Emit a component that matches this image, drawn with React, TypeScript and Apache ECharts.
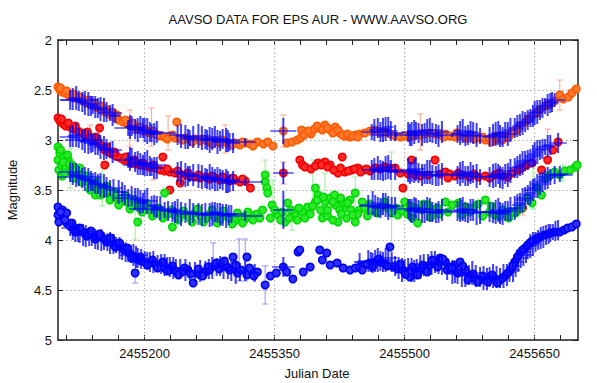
import React, { useEffect, useRef } from "react";
import * as echarts from "echarts";

const X_MIN = 2455100;
const X_MAX = 2455700;
const xLabelTicks = [2455200, 2455350, 2455500, 2455650];
const xTicks = [2455110, 2455140, 2455170, 2455200, 2455230, 2455260, 2455290, 2455320, 2455350, 2455380, 2455410, 2455440, 2455470, 2455500, 2455530, 2455560, 2455590, 2455620, 2455650, 2455680];
const Y_MIN = 2;
const Y_MAX = 5;
const Y_STEP = 0.5;

const titleText = "AAVSO DATA FOR EPS AUR - WWW.AAVSO.ORG";
const xName = "Julian Date";
const yName = "Magnitude";

// ---- circles: [JD, magnitude] ----
const orangeObs = [
  [2455100,2.47],[2455102,2.50],[2455105,2.52],[2455108,2.53],[2455112,2.55],[2455116,2.56],[2455120,2.58],[2455124,2.59],[2455129,2.61],[2455133,2.63],[2455138,2.65],[2455143,2.67],[2455147,2.68],[2455152,2.71],[2455157,2.73],[2455161,2.75],[2455166,2.78],[2455170,2.80],[2455175,2.82],[2455180,2.84],[2455184,2.86],[2455189,2.88],[2455193,2.89],[2455198,2.91],[2455203,2.92],[2455207,2.93],[2455212,2.94],[2455218,2.96],[2455223,2.97],[2455229,2.96],[2455235,2.98],[2455237,2.82],[2455241,2.99],[2455247,2.98],[2455252,3.00],[2455258,2.99],[2455264,3.01],[2455270,3.00],[2455275,3.02],[2455281,3.01],[2455287,3.03],[2455293,3.02],[2455298,3.04],[2455304,3.03],[2455310,3.05],[2455316,3.03],[2455322,3.04],[2455330,3.02],[2455337,3.04],[2455342,3.02],[2455348,3.06],[2455360,2.91],[2455364,3.03],[2455370,3.02],[2455376,3.00],[2455380,2.98],[2455381,2.90],[2455392,2.94],[2455402,2.88],[2455408,2.85],[2455414,2.90],[2455420,2.87],[2455425,2.93],[2455431,2.96],[2455437,2.97],[2455443,2.95],[2455448,2.94],[2455454,2.93],[2455460,2.91],[2455466,2.90],[2455472,2.93],[2455477,2.92],[2455483,2.94],[2455489,2.96],[2455495,2.97],[2455500,2.96],[2455506,2.97],[2455512,2.95],[2455518,2.95],[2455523,2.94],[2455529,2.93],[2455535,2.94],[2455541,2.95],[2455547,2.94],[2455552,2.96],[2455558,2.97],[2455564,2.96],[2455570,2.98],[2455575,2.97],[2455581,2.99],[2455587,2.98],[2455593,3.00],[2455598,2.99],[2455604,3.00],[2455610,2.98],[2455616,2.97],[2455622,2.94],[2455627,2.91],[2455633,2.87],[2455639,2.82],[2455645,2.78],[2455650,2.74],[2455656,2.70],[2455662,2.66],[2455668,2.64],[2455673,2.61],[2455679,2.55],[2455683,2.59],[2455689,2.57],[2455693,2.53],[2455698,2.49],
  [2455103,2.48],[2455110,2.51],[2455118,2.54],[2455126,2.57],[2455135,2.60],[2455141,2.63],[2455150,2.66],[2455155,2.69],[2455163,2.72],[2455168,2.75],[2455178,2.80],[2455186,2.83],[2455195,2.87],[2455200,2.89],[2455210,2.91],[2455215,2.95],[2455226,2.99],[2455232,2.95],[2455244,3.00],[2455255,3.02],[2455267,2.99],[2455278,3.04],[2455290,3.00],[2455301,3.05],[2455313,3.02],[2455325,3.06],
  [2455384,2.95],[2455389,2.91],[2455396,2.89],[2455399,2.86],[2455405,2.90],[2455411,2.88],[2455417,2.93],[2455423,2.90],[2455428,2.95],[2455434,2.94],[2455440,2.96],[2455446,2.97],
  [2455545,2.97],[2455560,2.93],[2455577,2.95],[2455590,2.97],[2455600,3.02],[2455607,2.96],[2455613,3.00],[2455620,2.97],[2455630,2.90],[2455642,2.80],[2455653,2.72],[2455665,2.65],
];

const redObs = [
  [2455100,2.78],[2455102,2.81],[2455106,2.84],[2455109,2.86],[2455114,2.87],[2455118,2.89],[2455123,2.91],[2455128,2.93],[2455132,2.95],[2455137,2.97],[2455142,3.00],[2455146,3.02],[2455148,2.88],[2455151,3.06],[2455154,3.10],[2455158,3.12],[2455154,3.25],[2455162,3.14],[2455167,3.16],[2455172,3.18],[2455176,3.20],[2455181,3.21],[2455185,3.23],[2455190,3.24],[2455195,3.25],[2455200,3.26],[2455206,3.27],[2455212,3.28],[2455218,3.30],[2455221,3.17],[2455223,3.31],[2455229,3.32],[2455229,3.50],[2455235,3.33],[2455241,3.34],[2455241,3.43],[2455247,3.35],[2455252,3.36],[2455258,3.37],[2455264,3.38],[2455270,3.37],[2455275,3.39],[2455281,3.38],[2455287,3.40],[2455293,3.39],[2455298,3.41],[2455304,3.40],[2455310,3.42],[2455316,3.41],[2455322,3.48],[2455360,3.33],[2455379,3.20],[2455382,3.25],[2455400,3.23],[2455408,3.22],[2455414,3.25],[2455423,3.33],[2455428,3.17],[2455431,3.32],[2455439,3.30],[2455446,3.28],[2455453,3.30],[2455460,3.31],[2455466,3.28],[2455472,3.29],[2455477,3.27],[2455483,3.28],[2455489,3.28],[2455495,3.33],[2455498,3.48],[2455504,3.34],[2455508,3.20],[2455512,3.35],[2455518,3.36],[2455527,3.35],[2455535,3.20],[2455541,3.34],[2455547,3.32],[2455552,3.34],[2455558,3.36],[2455566,3.35],[2455575,3.37],[2455585,3.37],[2455593,3.36],[2455604,3.35],[2455613,3.36],[2455624,3.33],[2455631,3.30],[2455635,3.28],[2455636,3.68],[2455641,3.25],[2455647,3.23],[2455658,3.30],[2455665,3.20],[2455671,3.10],[2455677,3.02],
  [2455104,2.79],[2455112,2.83],[2455120,2.86],[2455134,2.92],[2455144,2.97],[2455156,3.07],[2455165,3.12],[2455178,3.17],[2455188,3.20],[2455198,3.23],[2455210,3.25],[2455226,3.29],[2455238,3.31],[2455250,3.33],[2455262,3.35],[2455278,3.36],[2455290,3.37],[2455302,3.38],[2455313,3.39],
  [2455385,3.27],[2455392,3.29],[2455397,3.26],[2455404,3.25],[2455411,3.27],[2455418,3.30],[2455426,3.28],[2455435,3.31],[2455442,3.29],[2455449,3.32],[2455456,3.29],
  [2455550,3.38],[2455562,3.33],[2455580,3.34],[2455598,3.38],[2455609,3.33],[2455619,3.37],
];

const greenObs = [
  [2455100,3.07],[2455100,3.20],[2455101,3.30],[2455102,3.13],[2455104,3.25],[2455105,3.36],[2455107,3.17],[2455109,3.28],[2455112,3.20],[2455114,3.32],[2455116,3.25],[2455120,3.30],[2455123,3.36],[2455128,3.35],[2455131,3.40],[2455135,3.42],[2455139,3.46],[2455143,3.55],[2455146,3.48],[2455151,3.50],[2455154,3.52],[2455158,3.54],[2455162,3.56],[2455167,3.58],[2455172,3.59],[2455176,3.61],[2455181,3.63],[2455185,3.64],[2455190,3.66],[2455192,3.82],[2455195,3.67],[2455200,3.69],[2455206,3.70],[2455212,3.72],[2455218,3.73],[2455223,3.53],[2455227,3.74],[2455232,3.87],[2455235,3.75],[2455241,3.76],[2455247,3.74],[2455252,3.78],[2455258,3.73],[2455264,3.76],[2455270,3.79],[2455275,3.74],[2455281,3.77],[2455287,3.80],[2455293,3.75],[2455298,3.78],[2455304,3.81],[2455310,3.76],[2455316,3.79],[2455322,3.77],[2455327,3.75],[2455339,3.35],[2455339,3.42],[2455341,3.48],[2455342,3.53],[2455347,3.65],[2455354,3.75],[2455362,3.82],[2455365,3.63],[2455373,3.75],[2455382,3.72],[2455388,3.67],[2455397,3.62],[2455397,3.48],[2455400,3.55],[2455408,3.62],[2455414,3.58],[2455420,3.65],[2455423,3.82],[2455431,3.68],[2455437,3.60],[2455443,3.53],[2455443,3.82],[2455448,3.70],[2455454,3.68],[2455460,3.64],[2455466,3.72],[2455472,3.67],[2455477,3.62],[2455481,3.68],[2455485,3.73],[2455492,3.75],[2455500,3.62],[2455506,3.66],[2455512,3.68],[2455515,3.83],[2455522,3.64],[2455527,3.65],[2455533,3.70],[2455538,3.68],[2455547,3.62],[2455555,3.65],[2455562,3.63],[2455570,3.67],[2455578,3.68],[2455585,3.64],[2455593,3.60],[2455598,3.72],[2455604,3.75],[2455613,3.70],[2455624,3.72],[2455631,3.70],[2455635,3.68],[2455642,3.58],[2455647,3.63],[2455653,3.48],[2455658,3.55],[2455662,3.38],[2455668,3.35],[2455673,3.32],[2455679,3.35],[2455685,3.31],[2455691,3.30],[2455697,3.27],[2455699,3.25],
  [2455103,3.10],[2455106,3.22],[2455108,3.33],[2455111,3.15],[2455113,3.24],[2455118,3.38],[2455125,3.28],[2455127,3.42],[2455133,3.36],[2455137,3.50],[2455145,3.42],[2455149,3.55],[2455156,3.46],[2455160,3.60],[2455165,3.52],[2455170,3.65],[2455178,3.56],[2455183,3.69],[2455188,3.60],[2455197,3.72],[2455202,3.64],[2455209,3.76],[2455216,3.68],[2455221,3.78],[2455231,3.70],[2455239,3.80],[2455245,3.71],[2455255,3.82],[2455261,3.69],[2455268,3.82],[2455278,3.70],[2455284,3.83],[2455291,3.71],[2455301,3.84],[2455307,3.73],[2455313,3.83],[2455319,3.72],[2455325,3.80],
  [2455330,3.74],[2455333,3.78],[2455336,3.70],[2455345,3.78],[2455350,3.70],[2455357,3.80],[2455359,3.72],[2455367,3.78],[2455369,3.70],[2455376,3.80],[2455378,3.68],[2455385,3.78],[2455391,3.74],[2455394,3.66],[2455403,3.70],[2455405,3.78],[2455411,3.76],[2455417,3.80],[2455425,3.70],[2455429,3.62],[2455433,3.78],[2455438,3.70],[2455446,3.74],[2455399,3.60],[2455406,3.57],[2455419,3.55],[2455426,3.58],
  [2455411,3.70],[2455417,3.62],[2455427,3.74],[2455434,3.63],[2455440,3.75],[2455451,3.62],[2455457,3.76],[2455463,3.69],[2455469,3.73],[2455475,3.66],[2455490,3.68],[2455497,3.71],[2455503,3.74],[2455509,3.78],[2455520,3.70],[2455530,3.77],[2455540,3.74],[2455550,3.72],[2455566,3.75],[2455575,3.72],[2455590,3.76],[2455600,3.66],[2455610,3.76],[2455620,3.78],[2455628,3.73],
];

const blueObs = [
  [2455100,3.67],[2455100,3.75],[2455101,3.82],[2455105,3.70],[2455107,3.78],[2455110,3.73],[2455110,3.83],[2455114,3.86],[2455118,3.88],[2455122,3.89],[2455127,3.91],[2455131,3.93],[2455136,3.94],[2455140,3.95],[2455145,3.96],[2455150,3.97],[2455154,3.99],[2455159,4.01],[2455163,4.03],[2455168,4.04],[2455173,4.07],[2455177,4.10],[2455182,4.13],[2455187,4.16],[2455189,4.33],[2455191,4.19],[2455196,4.21],[2455200,4.22],[2455206,4.23],[2455212,4.24],[2455218,4.25],[2455223,4.28],[2455229,4.30],[2455236,4.31],[2455243,4.32],[2455250,4.30],[2455256,4.43],[2455260,4.33],[2455264,4.35],[2455270,4.32],[2455275,4.30],[2455280,4.26],[2455283,4.23],[2455289,4.25],[2455295,4.27],[2455302,4.17],[2455307,4.33],[2455311,4.30],[2455318,4.17],[2455318,4.35],[2455324,4.32],[2455330,4.32],[2455339,4.45],[2455345,4.36],[2455352,4.33],[2455360,4.27],[2455364,4.32],[2455371,4.39],[2455377,4.12],[2455379,4.10],[2455383,4.32],[2455391,4.27],[2455402,4.10],[2455405,4.20],[2455410,4.13],[2455414,4.25],[2455422,4.23],[2455429,4.28],[2455437,4.30],[2455443,4.28],[2455448,4.27],[2455454,4.25],[2455460,4.23],[2455466,4.22],[2455472,4.22],[2455477,4.24],[2455483,4.07],[2455487,4.27],[2455492,4.29],[2455498,4.30],[2455506,4.37],[2455512,4.32],[2455518,4.30],[2455523,4.28],[2455529,4.25],[2455535,4.22],[2455541,4.18],[2455547,4.22],[2455552,4.27],[2455558,4.25],[2455564,4.22],[2455570,4.30],[2455575,4.37],[2455581,4.38],[2455587,4.40],[2455593,4.39],[2455598,4.37],[2455604,4.39],[2455610,4.40],[2455616,4.36],[2455622,4.30],[2455627,4.22],[2455633,4.13],[2455639,4.08],[2455645,4.03],[2455650,4.00],[2455656,3.97],[2455662,3.95],[2455668,3.93],[2455673,3.92],[2455679,3.92],[2455684,3.90],[2455688,3.88],[2455693,3.87],[2455698,3.84],
  [2455103,3.72],[2455108,3.80],[2455116,3.83],[2455120,3.92],[2455125,3.88],[2455133,3.96],[2455138,3.91],[2455143,3.99],[2455148,3.94],[2455156,4.02],[2455161,3.98],[2455166,4.07],[2455171,4.03],[2455180,4.08],[2455185,4.18],[2455195,4.17],[2455203,4.25],[2455209,4.20],[2455215,4.28],[2455221,4.22],[2455226,4.31],[2455232,4.26],[2455239,4.35],[2455246,4.28],[2455253,4.34],[2455262,4.29],[2455267,4.36],[2455273,4.27],[2455286,4.29],[2455292,4.21],[2455298,4.30],[2455305,4.25],[2455321,4.28],[2455326,4.36],
  [2455451,4.30],[2455457,4.24],[2455463,4.27],[2455470,4.19],[2455480,4.26],[2455495,4.24],[2455501,4.34],[2455509,4.27],[2455515,4.35],[2455521,4.25],[2455526,4.32],[2455532,4.20],[2455538,4.27],[2455544,4.19],[2455549,4.30],[2455555,4.28],[2455561,4.33],[2455567,4.26],[2455573,4.40],[2455579,4.34],[2455584,4.42],[2455590,4.36],[2455596,4.42],[2455601,4.35],[2455607,4.43],[2455613,4.38],[2455619,4.33],[2455625,4.26],[2455630,4.17],[2455636,4.10],[2455642,4.05],[2455647,4.01],[2455653,3.98],
];

// ---- error bars of the circles: [JD, magnitude, error] ----
const orangeErr = [[2455183,2.88,0.18],[2455208,2.87,0.19],[2455227,2.93,0.17],[2455293,2.99,0.14],[2455360,2.91,0.16],[2455518,2.92,0.18],[2455679,2.55,0.15]];
const redErr = [[2455137,2.97,0.12],[2455210,3.31,0.09],[2455360,3.33,0.11],[2455636,3.68,0.07],[2455665,3.03,0.14]];
const greenErr = [[2455114,3.28,0.20],[2455151,3.47,0.19],[2455189,3.76,0.24],[2455339,3.35,0.15],[2455348,3.61,0.21],[2455370,3.79,0.11],[2455394,3.45,0.25],[2455408,3.46,0.13],[2455485,3.60,0.48],[2455443,3.53,0.16],[2455648,3.42,0.27],[2455682,3.33,0.08]];
const blueErr = [[2455189,4.33,0.10],[2455279,4.13,0.10],[2455309,4.20,0.21],[2455316,4.20,0.21],[2455339,4.45,0.19]];

// ---- blue crosses: [JD, magnitude, JD error, magnitude error] ----
const crossTop = [
  [2455114,2.60,12,0.10],[2455121,2.58,8,0.12],[2455128,2.62,6,0.10],[2455135,2.64,10,0.12],[2455140,2.65,6,0.09],[2455146,2.68,12,0.10],[2455153,2.70,8,0.12],[2455160,2.73,14,0.08],[2455166,2.76,6,0.07],[2455181,2.88,16,0.08],[2455185,2.86,6,0.10],[2455192,2.90,8,0.12],[2455198,2.88,6,0.10],[2455203,2.91,12,0.13],[2455208,2.93,6,0.09],[2455214,2.92,8,0.11],[2455238,2.95,10,0.10],[2455247,2.97,6,0.12],[2455252,2.98,8,0.08],[2455262,2.96,14,0.12],[2455270,2.99,6,0.10],[2455275,3.00,8,0.13],[2455281,2.97,6,0.11],[2455287,3.01,10,0.10],[2455294,3.00,6,0.12],[2455298,3.02,8,0.09],[2455316,3.02,12,0.04],[2455360,2.91,15,0.13],
  [2455117,2.59,6,0.11],[2455124,2.61,10,0.10],[2455131,2.63,6,0.12],[2455138,2.66,8,0.10],[2455143,2.67,6,0.11],[2455149,2.69,8,0.12],[2455156,2.72,6,0.10],[2455163,2.75,8,0.11],[2455183,2.87,6,0.12],[2455189,2.89,8,0.10],[2455195,2.87,6,0.11],[2455200,2.90,8,0.12],[2455206,2.92,6,0.10],[2455211,2.94,8,0.11],[2455242,2.96,6,0.12],[2455250,2.99,8,0.10],[2455256,2.97,6,0.11],[2455266,2.98,8,0.12],[2455272,3.00,6,0.10],[2455278,2.99,8,0.11],[2455284,3.02,6,0.12],[2455290,2.99,8,0.10],[2455296,3.01,6,0.11],[2455302,3.03,8,0.10],[2455125,2.60,22,0.02],[2455210,2.93,25,0.02],[2455280,3.00,30,0.02],
  [2455462,2.92,12,0.08],[2455469,2.88,6,0.10],[2455475,2.90,8,0.12],[2455481,2.87,6,0.10],[2455489,2.93,10,0.08],[2455504,2.92,8,0.10],[2455508,2.94,6,0.12],[2455513,2.91,10,0.09],[2455523,2.93,6,0.10],[2455529,2.90,14,0.12],[2455536,2.94,6,0.10],[2455543,2.92,8,0.11],[2455561,2.94,6,0.09],[2455567,2.91,10,0.12],[2455573,2.95,6,0.10],[2455579,2.93,8,0.11],[2455587,2.96,12,0.08],[2455602,2.95,6,0.11],[2455608,2.93,8,0.12],[2455613,2.97,6,0.10],[2455619,2.94,10,0.12],[2455627,2.88,8,0.10],[2455633,2.85,6,0.11],[2455639,2.82,10,0.10],[2455645,2.78,6,0.09],[2455650,2.73,8,0.12],[2455656,2.70,6,0.10],[2455662,2.66,10,0.08],[2455668,2.63,8,0.10],[2455673,2.60,12,0.07],
  [2455465,2.90,6,0.11],[2455472,2.92,10,0.10],[2455478,2.89,6,0.12],[2455484,2.91,8,0.10],[2455506,2.95,6,0.11],[2455511,2.92,8,0.12],[2455516,2.93,6,0.10],[2455520,2.95,10,0.11],[2455526,2.91,6,0.12],[2455532,2.93,8,0.10],[2455539,2.96,6,0.11],[2455564,2.93,8,0.12],[2455570,2.96,6,0.10],[2455576,2.92,8,0.11],[2455583,2.95,6,0.12],[2455598,2.97,8,0.10],[2455605,2.94,6,0.12],[2455610,2.96,10,0.11],[2455616,2.92,6,0.10],[2455622,2.90,8,0.12],[2455630,2.86,6,0.11],[2455636,2.83,8,0.12],[2455642,2.80,6,0.10],[2455648,2.76,10,0.11],[2455653,2.72,6,0.12],[2455659,2.68,8,0.10],[2455665,2.65,6,0.11],[2455670,2.62,8,0.10],[2455490,2.95,28,0.02],[2455555,2.95,22,0.02],
];
const crossSecond = [
  [2455114,2.97,12,0.10],[2455121,2.95,8,0.12],[2455128,3.00,6,0.10],[2455135,3.02,10,0.12],[2455140,3.03,6,0.09],[2455146,3.05,12,0.10],[2455153,3.08,8,0.12],[2455160,3.10,14,0.08],[2455181,3.20,16,0.08],[2455185,3.18,6,0.10],[2455192,3.23,8,0.12],[2455198,3.25,6,0.10],[2455203,3.23,12,0.13],[2455208,3.27,6,0.09],[2455214,3.28,8,0.11],[2455238,3.32,10,0.10],[2455247,3.35,6,0.12],[2455252,3.34,8,0.08],[2455262,3.36,14,0.12],[2455270,3.38,6,0.10],[2455275,3.37,8,0.13],[2455281,3.40,6,0.11],[2455287,3.39,10,0.10],[2455294,3.41,6,0.12],[2455298,3.43,8,0.09],[2455316,3.42,20,0.04],[2455360,3.33,12,0.11],
  [2455117,2.96,6,0.11],[2455124,2.98,10,0.10],[2455131,3.01,6,0.12],[2455138,3.03,8,0.10],[2455143,3.04,6,0.11],[2455149,3.07,8,0.12],[2455156,3.09,6,0.10],[2455163,3.12,8,0.11],[2455183,3.19,6,0.12],[2455189,3.22,8,0.10],[2455195,3.24,6,0.11],[2455200,3.24,8,0.12],[2455206,3.26,6,0.10],[2455211,3.28,8,0.11],[2455242,3.33,6,0.12],[2455250,3.36,8,0.10],[2455256,3.35,6,0.11],[2455266,3.37,8,0.12],[2455272,3.39,6,0.10],[2455278,3.38,8,0.11],[2455284,3.39,6,0.12],[2455290,3.40,8,0.10],[2455296,3.42,6,0.11],[2455302,3.41,8,0.10],[2455130,3.00,22,0.02],[2455200,3.25,25,0.02],[2455280,3.40,30,0.02],
  [2455462,3.30,12,0.10],[2455469,3.28,6,0.12],[2455475,3.31,8,0.10],[2455481,3.27,6,0.12],[2455489,3.32,10,0.08],[2455504,3.30,8,0.12],[2455508,3.32,6,0.10],[2455513,3.29,10,0.12],[2455523,3.34,6,0.10],[2455529,3.32,14,0.12],[2455536,3.36,6,0.10],[2455543,3.34,8,0.11],[2455561,3.35,6,0.09],[2455567,3.32,10,0.11],[2455573,3.36,6,0.10],[2455579,3.34,8,0.09],[2455587,3.37,12,0.08],[2455602,3.36,6,0.12],[2455608,3.34,8,0.10],[2455613,3.38,6,0.11],[2455619,3.35,10,0.12],[2455627,3.28,8,0.10],[2455633,3.25,6,0.11],[2455639,3.21,10,0.10],[2455645,3.18,6,0.09],[2455650,3.14,8,0.12],[2455656,3.10,6,0.10],[2455662,3.07,10,0.08],[2455668,3.05,8,0.10],[2455677,3.03,10,0.10],
  [2455465,3.29,6,0.11],[2455472,3.30,10,0.10],[2455478,3.28,6,0.12],[2455484,3.30,8,0.10],[2455506,3.33,6,0.11],[2455511,3.31,8,0.12],[2455516,3.33,6,0.10],[2455520,3.35,10,0.11],[2455526,3.32,6,0.12],[2455532,3.35,8,0.10],[2455539,3.35,6,0.11],[2455564,3.34,8,0.12],[2455570,3.36,6,0.10],[2455576,3.33,8,0.11],[2455583,3.36,6,0.12],[2455598,3.37,8,0.10],[2455605,3.35,6,0.12],[2455610,3.37,10,0.11],[2455616,3.34,6,0.10],[2455622,3.31,8,0.12],[2455630,3.27,6,0.11],[2455636,3.23,8,0.12],[2455642,3.20,6,0.10],[2455648,3.16,10,0.11],[2455653,3.12,6,0.12],[2455659,3.09,8,0.10],[2455665,3.06,6,0.11],[2455490,3.31,28,0.02],[2455555,3.35,22,0.02],
];
const crossThird = [
  [2455114,3.32,14,0.10],[2455121,3.35,8,0.12],[2455128,3.38,6,0.10],[2455135,3.40,10,0.12],[2455140,3.42,6,0.09],[2455146,3.44,12,0.10],[2455153,3.46,8,0.12],[2455160,3.48,14,0.08],[2455174,3.52,6,0.10],[2455181,3.58,16,0.09],[2455185,3.56,6,0.10],[2455192,3.60,8,0.12],[2455198,3.63,6,0.10],[2455203,3.61,12,0.13],[2455208,3.65,6,0.09],[2455214,3.67,8,0.11],[2455223,3.70,18,0.08],[2455232,3.72,6,0.10],[2455238,3.71,10,0.12],[2455247,3.73,6,0.10],[2455252,3.72,8,0.13],[2455262,3.74,14,0.11],[2455270,3.73,6,0.10],[2455275,3.75,8,0.12],[2455281,3.72,6,0.10],[2455287,3.74,10,0.11],[2455294,3.76,6,0.12],[2455300,3.74,8,0.09],[2455316,3.76,20,0.05],[2455360,3.70,12,0.19],
  [2455117,3.34,6,0.11],[2455124,3.36,10,0.10],[2455131,3.39,6,0.12],[2455138,3.41,8,0.10],[2455143,3.43,6,0.11],[2455149,3.45,8,0.12],[2455156,3.47,6,0.10],[2455164,3.50,8,0.11],[2455170,3.52,6,0.12],[2455177,3.55,8,0.10],[2455189,3.59,6,0.11],[2455195,3.62,8,0.12],[2455200,3.60,6,0.10],[2455211,3.66,8,0.11],[2455218,3.68,6,0.12],[2455227,3.71,8,0.10],[2455235,3.72,6,0.11],[2455242,3.74,8,0.12],[2455256,3.73,6,0.10],[2455266,3.75,8,0.11],[2455278,3.74,6,0.12],[2455284,3.73,8,0.10],[2455290,3.75,6,0.11],[2455297,3.75,8,0.10],[2455125,3.37,25,0.02],[2455210,3.69,28,0.02],[2455285,3.74,30,0.02],
  [2455458,3.65,10,0.10],[2455463,3.63,6,0.12],[2455469,3.67,12,0.10],[2455475,3.64,6,0.11],[2455481,3.68,8,0.12],[2455489,3.66,10,0.09],[2455504,3.69,14,0.10],[2455508,3.71,6,0.12],[2455513,3.68,8,0.10],[2455523,3.72,6,0.11],[2455529,3.70,16,0.12],[2455536,3.73,6,0.10],[2455543,3.70,8,0.11],[2455561,3.71,12,0.10],[2455567,3.69,6,0.12],[2455573,3.73,8,0.10],[2455579,3.70,6,0.11],[2455587,3.72,10,0.12],[2455602,3.73,6,0.10],[2455608,3.70,8,0.12],[2455613,3.74,6,0.11],[2455619,3.71,10,0.10],[2455627,3.68,8,0.12],[2455633,3.63,6,0.10],[2455639,3.58,10,0.11],[2455645,3.53,6,0.12],[2455650,3.48,8,0.10],[2455656,3.44,10,0.11],[2455662,3.40,8,0.10],[2455668,3.37,14,0.08],[2455673,3.35,12,0.09],[2455679,3.34,10,0.08],
  [2455466,3.66,6,0.11],[2455472,3.68,10,0.10],[2455478,3.65,6,0.12],[2455485,3.67,8,0.10],[2455506,3.70,6,0.11],[2455511,3.69,8,0.12],[2455516,3.70,6,0.10],[2455520,3.72,10,0.11],[2455526,3.69,6,0.12],[2455532,3.72,8,0.10],[2455539,3.72,6,0.11],[2455564,3.70,8,0.12],[2455570,3.72,6,0.10],[2455576,3.70,8,0.11],[2455583,3.73,6,0.12],[2455598,3.72,8,0.10],[2455605,3.72,6,0.12],[2455610,3.73,10,0.11],[2455616,3.71,6,0.10],[2455622,3.69,8,0.12],[2455630,3.65,6,0.11],[2455636,3.60,8,0.12],[2455642,3.55,6,0.10],[2455648,3.50,10,0.11],[2455653,3.46,6,0.12],[2455659,3.42,8,0.10],[2455665,3.38,6,0.11],[2455680,3.35,14,0.02],[2455470,3.66,22,0.02],[2455540,3.72,28,0.02],[2455600,3.72,22,0.02],
];
const crossBottom = [
  [2455114,3.88,10,0.08],[2455120,3.92,6,0.10],[2455125,3.94,8,0.09],[2455132,3.96,6,0.11],[2455139,3.98,10,0.08],[2455146,4.00,6,0.10],[2455153,4.01,8,0.09],[2455160,4.03,6,0.11],[2455167,4.05,10,0.08],[2455174,4.10,6,0.10],[2455181,4.13,8,0.09],[2455187,4.15,16,0.11],[2455192,4.18,6,0.10],[2455200,4.20,8,0.09],[2455206,4.22,14,0.10],[2455215,4.23,6,0.08],[2455223,4.25,8,0.11],[2455229,4.27,6,0.10],[2455236,4.28,10,0.09],[2455247,4.30,6,0.11],[2455258,4.32,8,0.10],[2455270,4.30,6,0.09],[2455278,4.28,8,0.11],[2455287,4.26,6,0.10],[2455296,4.30,8,0.09],[2455305,4.32,6,0.12],[2455316,4.31,8,0.10],[2455327,4.33,6,0.09],[2455360,4.27,13,0.10],
  [2455117,3.90,6,0.10],[2455123,3.93,8,0.09],[2455129,3.95,6,0.11],[2455136,3.97,8,0.09],[2455143,3.99,6,0.10],[2455150,4.00,8,0.11],[2455157,4.02,6,0.09],[2455164,4.04,8,0.10],[2455171,4.08,6,0.11],[2455178,4.12,8,0.10],[2455184,4.14,6,0.09],[2455190,4.17,8,0.11],[2455196,4.19,6,0.10],[2455203,4.21,8,0.09],[2455210,4.22,6,0.11],[2455219,4.24,8,0.10],[2455226,4.26,6,0.09],[2455233,4.28,8,0.11],[2455241,4.29,6,0.10],[2455252,4.31,8,0.09],[2455264,4.31,6,0.11],[2455274,4.29,8,0.10],[2455283,4.27,6,0.09],[2455291,4.28,8,0.11],[2455300,4.31,6,0.10],[2455310,4.32,8,0.09],
  [2455448,4.22,6,0.09],[2455458,4.21,12,0.11],[2455463,4.23,6,0.10],[2455469,4.20,8,0.12],[2455475,4.22,6,0.10],[2455481,4.18,10,0.11],[2455489,4.26,6,0.10],[2455497,4.30,8,0.12],[2455504,4.28,6,0.10],[2455511,4.31,10,0.11],[2455518,4.27,6,0.12],[2455527,4.24,8,0.10],[2455535,4.22,6,0.11],[2455543,4.25,8,0.10],[2455555,4.32,6,0.12],[2455561,4.34,10,0.10],[2455570,4.36,6,0.11],[2455578,4.33,8,0.12],[2455587,4.37,6,0.10],[2455595,4.39,10,0.11],[2455602,4.36,6,0.12],[2455610,4.38,8,0.10],[2455618,4.35,6,0.11],[2455625,4.30,8,0.12],[2455631,4.22,6,0.10],[2455637,4.15,10,0.11],[2455642,4.09,6,0.10],[2455648,4.04,8,0.12],[2455654,4.00,6,0.10],[2455660,3.97,10,0.11],[2455666,3.94,8,0.10],[2455671,3.92,14,0.08],[2455677,3.90,8,0.10],
  [2455461,4.22,6,0.10],[2455466,4.21,8,0.11],[2455472,4.21,6,0.10],[2455478,4.20,8,0.12],[2455485,4.22,6,0.10],[2455493,4.28,8,0.11],[2455500,4.29,6,0.10],[2455508,4.30,8,0.12],[2455514,4.29,6,0.10],[2455522,4.25,8,0.11],[2455531,4.23,6,0.12],[2455539,4.24,8,0.10],[2455549,4.29,6,0.11],[2455558,4.33,8,0.10],[2455566,4.35,6,0.12],[2455574,4.35,8,0.10],[2455582,4.36,6,0.11],[2455591,4.38,8,0.12],[2455598,4.37,6,0.10],[2455606,4.37,8,0.11],[2455614,4.36,6,0.12],[2455621,4.32,8,0.10],[2455628,4.26,6,0.11],[2455634,4.18,8,0.10],[2455640,4.12,6,0.11],[2455645,4.06,8,0.12],[2455651,4.02,6,0.10],[2455657,3.98,8,0.11],[2455663,3.95,6,0.10],[2455668,3.93,8,0.09],[2455674,3.91,6,0.10],[2455460,4.22,18,0.02],[2455530,4.24,20,0.02],
];

const FONT = '"Liberation Sans", Arial, Helvetica, sans-serif';
const CROSS = "#0000ff";

function crossItem(params: any, api: any) {
  const x = api.value(0), y = api.value(1), dx = api.value(2), dy = api.value(3);
  const a = api.coord([x, y - dy]);
  const b = api.coord([x, y + dy]);
  const l = api.coord([x - dx, y]);
  const r = api.coord([x + dx, y]);
  return {
    type: "group",
    children: [
      { type: "line", shape: { x1: l[0], y1: l[1], x2: r[0], y2: r[1] }, style: { stroke: CROSS, lineWidth: 1.5, opacity: 0.7 } },
      { type: "line", shape: { x1: a[0], y1: a[1], x2: b[0], y2: b[1] }, style: { stroke: CROSS, lineWidth: 2, opacity: 0.75 } },
    ],
  };
}

function errItem(color: string) {
  return (params: any, api: any) => {
    const x = api.value(0), y = api.value(1), e = api.value(2);
    const a = api.coord([x, y - e]);
    const b = api.coord([x, y + e]);
    const st = { stroke: color, lineWidth: 1 };
    return {
      type: "group",
      children: [
        { type: "line", shape: { x1: a[0], y1: a[1], x2: b[0], y2: b[1] }, style: st },
        { type: "line", shape: { x1: a[0] - 3, y1: a[1], x2: a[0] + 3, y2: a[1] }, style: st },
        { type: "line", shape: { x1: b[0] - 3, y1: b[1], x2: b[0] + 3, y2: b[1] }, style: st },
      ],
    };
  };
}

function gridItem(params: any, api: any) {
  const x = api.value(0);
  const a = api.coord([x, Y_MIN]);
  const b = api.coord([x, Y_MAX]);
  return { type: "line", shape: { x1: a[0], y1: a[1], x2: b[0], y2: b[1] }, style: { stroke: "#a8a8a8", lineWidth: 1, lineDash: [1.5, 2.5] } };
}

function circles(data: number[][], fill: string, stroke: string) {
  return {
    type: "scatter",
    data,
    symbol: "circle",
    symbolSize: 7.5,
    itemStyle: { color: fill, borderColor: stroke, borderWidth: 1.5, opacity: 1 },
    z: 3,
    silent: true,
  };
}

function errSeries(data: number[][], color: string) {
  return { type: "custom", renderItem: errItem(color), data, encode: { x: 0, y: 1 }, z: 2, silent: true, clip: true };
}

function crossSeries(data: number[][]) {
  return { type: "custom", renderItem: crossItem, data, encode: { x: 0, y: 1 }, z: 4, silent: true, clip: true };
}

export default function App() {
  const ref = useRef<HTMLDivElement>(null);
  useEffect(() => {
    const chart = echarts.init(ref.current!, null, { renderer: "svg" });
    const axisLine = { show: true, onZero: false, lineStyle: { color: "#222", width: 1.5 } };
    const tick = { show: true, inside: true, length: 5, lineStyle: { color: "#222", width: 1 } };
    chart.setOption({
      animation: false,
      backgroundColor: "#ffffff",
      grid: { left: 58, right: 19, top: 40, bottom: 43, containLabel: false },
      xAxis: [
        {
          type: "value", min: X_MIN, max: X_MAX, position: "bottom",
          axisLine, axisTick: { ...tick, customValues: xTicks },
          axisLabel: { customValues: xLabelTicks, color: "#111", fontSize: 13, fontFamily: FONT, margin: 7, formatter: (v: number) => String(v) },
          splitLine: { show: false },
        },
        {
          type: "value", min: X_MIN, max: X_MAX, position: "top",
          axisLine, axisTick: { ...tick, customValues: xTicks },
          axisLabel: { show: false }, splitLine: { show: false },
        },
      ],
      yAxis: [
        {
          type: "value", min: Y_MIN, max: Y_MAX, interval: Y_STEP, inverse: true, position: "left",
          axisLine, axisTick: tick,
          axisLabel: { color: "#111", fontSize: 13, fontFamily: FONT, margin: 6 },
          splitLine: { show: true, lineStyle: { color: "#a8a8a8", width: 1, type: [1.5, 2.5] } },
        },
        {
          type: "value", min: Y_MIN, max: Y_MAX, interval: Y_STEP, inverse: true, position: "right",
          axisLine, axisTick: tick, axisLabel: { show: false }, splitLine: { show: false },
        },
      ],
      graphic: [
        { type: "text", x: 318, y: 19, style: { text: titleText, fill: "#111", font: `13px ${FONT}`, textAlign: "center", textVerticalAlign: "middle" } },
        { type: "text", x: 317, y: 373, style: { text: xName, fill: "#111", font: `13px ${FONT}`, textAlign: "center", textVerticalAlign: "middle" } },
        { type: "text", x: 12, y: 190, rotation: Math.PI / 2, style: { text: yName, fill: "#111", font: `13px ${FONT}`, textAlign: "center", textVerticalAlign: "middle" } },
      ],
      series: [
        { type: "custom", renderItem: gridItem, data: xLabelTicks.map((v) => [v, Y_MIN]), encode: { x: 0, y: 1 }, z: 1, silent: true },
        errSeries(orangeErr, "#ffa48c"),
        errSeries(redErr, "#ff9c9c"),
        errSeries(greenErr, "#96ee96"),
        errSeries(blueErr, "#9090ff"),
        circles(orangeObs, "#ff7a2e", "#ff5a00"),
        circles(redObs, "#ff2a2a", "#f00000"),
        circles(greenObs, "#2eea2e", "#00d800"),
        circles(blueObs, "#2e2eff", "#0000f0"),
        crossSeries(crossTop),
        crossSeries(crossSecond),
        crossSeries(crossThird),
        crossSeries(crossBottom),
      ],
    });
    return () => chart.dispose();
  }, []);
  return <div ref={ref} style={{ position: "fixed", left: 0, top: 0, width: 597, height: 383, background: "#fff" }} />;
}
